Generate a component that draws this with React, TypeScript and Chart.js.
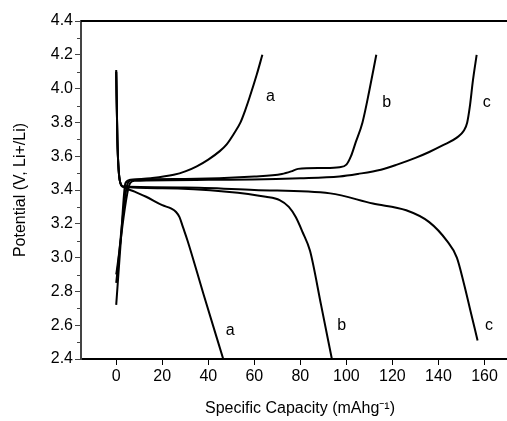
import React, { useEffect, useRef } from "react";
import { Chart, registerables } from "chart.js";

Chart.register(...registerables);

// Charge curves (upper, ending at 4.2 V)
const chargeA_cap = [0, 2, 4, 6, 15, 25, 30, 35, 40, 45, 48, 51, 54, 56, 58, 61, 63.5];
const chargeA_pot = [2.72, 3.1, 3.44, 3.46, 3.47, 3.49, 3.51, 3.54, 3.58, 3.63, 3.67, 3.73, 3.8, 3.87, 3.95, 4.08, 4.2];
const chargeB_cap = [0, 5, 7, 30, 60, 72, 76, 79, 90, 97, 100, 102, 104, 107, 110, 113];
const chargeB_pot = [2.85, 3.44, 3.46, 3.465, 3.48, 3.495, 3.51, 3.525, 3.53, 3.535, 3.55, 3.6, 3.68, 3.8, 3.99, 4.2];
const chargeC_cap = [0, 6, 8, 40, 80, 97, 105, 115, 122, 130, 136, 142, 148, 151, 152.5, 153.6, 155, 156.6];
const chargeC_pot = [2.9, 3.44, 3.455, 3.46, 3.47, 3.48, 3.495, 3.52, 3.55, 3.59, 3.625, 3.665, 3.71, 3.75, 3.8, 3.89, 4.05, 4.2];

// Discharge curves (lower)
const dischA_cap = [0, 0.5, 1.5, 3, 8, 13, 20, 24, 26, 27.5, 29, 31, 38, 46.5];
const dischA_pot = [4.11, 3.7, 3.46, 3.42, 3.39, 3.36, 3.31, 3.29, 3.27, 3.24, 3.18, 3.1, 2.78, 2.4];
const dischB_cap = [0, 0.5, 1.5, 3, 20, 48, 65, 71, 75, 78, 81, 84.2, 89, 93.7];
const dischB_pot = [4.1, 3.7, 3.46, 3.42, 3.41, 3.39, 3.36, 3.34, 3.3, 3.24, 3.15, 3.04, 2.72, 2.4];
const dischC_cap = [0, 0.5, 1.5, 3, 30, 60, 93, 111.5, 126, 136, 143.6, 148, 151, 154, 157];
const dischC_pot = [4.1, 3.7, 3.46, 3.42, 3.415, 3.4, 3.38, 3.32, 3.28, 3.21, 3.1, 3.0, 2.85, 2.68, 2.51];

// Curve labels
const labelText = ["a", "b", "c", "a", "b", "c"];
const labelCap = [67, 117.5, 161, 49.5, 98, 162];
const labelPot = [3.95, 3.92, 3.92, 2.57, 2.6, 2.6];

// Axis ticks
const xTicks = [0, 20, 40, 60, 80, 100, 120, 140, 160];
const yTicks = [2.4, 2.6, 2.8, 3.0, 3.2, 3.4, 3.6, 3.8, 4.0, 4.2, 4.4];
const yMinorTicks = [2.5, 2.7, 2.9, 3.1, 3.3, 3.5, 3.7, 3.9, 4.1, 4.3];

const FONT = "'Liberation Sans', Arial, sans-serif";

function pts(xs: number[], ys: number[]) {
  return xs.map((x, i) => ({ x, y: ys[i] }));
}

const decorPlugin = {
  id: "decor",
  afterDraw(chart: any) {
    const { ctx, chartArea, scales } = chart;
    const xs = scales.x;
    const ys = scales.y;
    ctx.save();
    // top frame line
    ctx.strokeStyle = "#000";
    ctx.lineWidth = 2;
    ctx.beginPath();
    ctx.moveTo(chartArea.left, chartArea.top);
    ctx.lineTo(chartArea.right, chartArea.top);
    ctx.stroke();
    // minor y ticks
    ctx.strokeStyle = "#444";
    ctx.lineWidth = 1;
    yMinorTicks.forEach((v) => {
      const py = Math.round(ys.getPixelForValue(v)) + 0.5;
      ctx.beginPath();
      ctx.moveTo(chartArea.left - 4, py);
      ctx.lineTo(chartArea.left, py);
      ctx.stroke();
    });
    // curve labels
    ctx.fillStyle = "#000";
    ctx.font = "16px " + FONT;
    ctx.textAlign = "center";
    ctx.textBaseline = "middle";
    labelText.forEach((t, i) => {
      ctx.fillText(t, xs.getPixelForValue(labelCap[i]), ys.getPixelForValue(labelPot[i]));
    });
    ctx.restore();
  },
};

export default function App() {
  const ref = useRef<HTMLCanvasElement | null>(null);
  useEffect(() => {
    document.body.style.margin = "0";
    document.body.style.overflow = "hidden";
    const series = [
      pts(chargeA_cap, chargeA_pot),
      pts(chargeB_cap, chargeB_pot),
      pts(chargeC_cap, chargeC_pot),
      pts(dischA_cap, dischA_pot),
      pts(dischB_cap, dischB_pot),
      pts(dischC_cap, dischC_pot),
    ];
    const names = ["charge a", "charge b", "charge c", "discharge a", "discharge b", "discharge c"];
    const chart = new Chart(ref.current as HTMLCanvasElement, {
      type: "line",
      data: {
        datasets: series.map((d, i) => ({
          label: names[i],
          data: d,
          borderColor: "#000",
          borderWidth: 2,
          pointRadius: 0,
          fill: false,
          cubicInterpolationMode: "monotone" as const,
        })),
      },
      plugins: [decorPlugin],
      options: {
        responsive: false,
        animation: false,
        layout: { padding: { top: 21, right: 6, left: 0, bottom: 0 } },
        plugins: { legend: { display: false }, tooltip: { enabled: false } },
        scales: {
          x: {
            type: "linear",
            min: -15.3,
            max: 175,
            afterBuildTicks: (s: any) => {
              s.ticks = xTicks.map((v) => ({ value: v }));
            },
            afterFit: (s: any) => {
              s.height = 62;
            },
            grid: {
              display: true,
              drawOnChartArea: false,
              drawTicks: true,
              tickLength: 6,
              tickColor: "#000",
              tickWidth: 1,
            },
            border: { display: true, color: "#000", width: 2 },
            ticks: {
              color: "#000",
              font: { family: FONT, size: 16 },
              padding: 2,
              maxRotation: 0,
              autoSkip: false,
            },
            title: {
              display: true,
              text: "Specific Capacity (mAhg⁻¹)",
              color: "#000",
              font: { family: FONT, size: 16 },
              padding: { top: 0, bottom: 3 },
            },
          },
          y: {
            type: "linear",
            min: 2.4,
            max: 4.4,
            afterBuildTicks: (s: any) => {
              s.ticks = yTicks.map((v) => ({ value: v }));
            },
            afterFit: (s: any) => {
              s.width = 81;
            },
            grid: {
              display: true,
              drawOnChartArea: false,
              drawTicks: true,
              tickLength: 6,
              tickColor: "#444",
              tickWidth: 1,
            },
            border: { display: true, color: "#444", width: 2 },
            ticks: {
              color: "#000",
              font: { family: FONT, size: 16 },
              padding: 2,
              autoSkip: false,
              callback: (v: any) => Number(v).toFixed(1),
            },
            title: {
              display: true,
              text: "Potential (V, Li+/Li)",
              color: "#000",
              font: { family: FONT, size: 16 },
              padding: { top: 11, bottom: 0 },
            },
          },
        },
      },
    });
    return () => chart.destroy();
  }, []);
  return (
    <canvas
      ref={ref}
      width={525}
      height={421}
      style={{ position: "absolute", left: 0, top: 0, width: 525, height: 421 }}
    />
  );
}
